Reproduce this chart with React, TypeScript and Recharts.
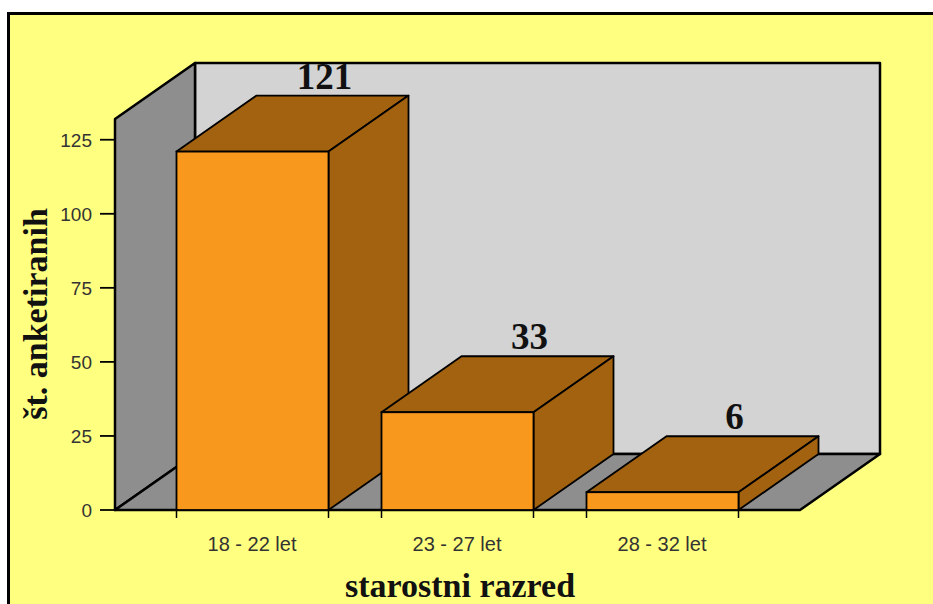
import React from 'react';
import { BarChart, Bar, XAxis, YAxis, ReferenceArea, LabelList } from 'recharts';

// ---- data ----
const categories = ['18 - 22 let', '23 - 27 let', '28 - 32 let'];
const counts = [121, 33, 6];
const yTicks = [0, 25, 50, 75, 100, 125];
const yMax = 132;
const yTitle = 'št. anketiranih';
const xTitle = 'starostni razred';

const data = categories.map((c, i) => ({ category: c, value: counts[i] }));

// ---- layout ----
const W = 933;
const H = 604;
const Y_AXIS_W = 60;
const X_AXIS_H = 40;
const M = { top: 119, right: 168.5, bottom: 54, left: 89.5 };
const PLOT_LEFT = M.left + Y_AXIS_W;
const PLOT_RIGHT = W - M.right;
const PLOT_BOTTOM = H - M.bottom - X_AXIS_H;
const GAP_L = 34.5;
const GAP_R = 35.5;
const DX = 80;
const DY = 56;

const SERIF = "'Liberation Serif', 'Times New Roman', serif";
const SANS = "'Liberation Sans', Arial, sans-serif";
const ORANGE = '#F8981D';
const BROWN = '#A2620F';
const DARK_GRAY = '#8E8E8E';
const LIGHT_GRAY = '#D3D3D3';

const pts = (arr: number[][]) => arr.map((p) => `${p[0]},${p[1]}`).join(' ');

const Walls = (props: any) => {
  const { x, y, width, height } = props;
  const l = x - GAP_L;
  const r = x + width + GAP_R;
  const t = y;
  const b = y + height;
  return (
    <g>
      <polygon
        points={pts([[l + DX, t - DY], [r + DX, t - DY], [r + DX, b - DY], [l + DX, b - DY]])}
        fill={LIGHT_GRAY}
        stroke="#000"
        strokeWidth={2.5}
        strokeLinejoin="round"
      />
      <polygon
        points={pts([[l, t], [l + DX, t - DY], [l + DX, b - DY], [l, b]])}
        fill={DARK_GRAY}
        stroke="#000"
        strokeWidth={2.5}
        strokeLinejoin="round"
      />
      <polygon
        points={pts([[l, b], [r, b], [r + DX, b - DY], [l + DX, b - DY]])}
        fill={DARK_GRAY}
        stroke="#000"
        strokeWidth={2.5}
        strokeLinejoin="round"
      />
    </g>
  );
};

const Box = (props: any) => {
  const { x, y, width, height } = props;
  if (x == null || y == null) return null;
  const b = y + height;
  const r = x + width;
  const sw = 1.8;
  return (
    <g>
      <line x1={x} y1={b} x2={x} y2={b + 8} stroke="#000" strokeWidth={1.5} />
      <line x1={r} y1={b} x2={r} y2={b + 8} stroke="#000" strokeWidth={1.5} />
      <polygon
        points={pts([[x, y], [x + DX, y - DY], [r + DX, y - DY], [r, y]])}
        fill={BROWN}
        stroke="#000"
        strokeWidth={sw}
        strokeLinejoin="round"
      />
      <polygon
        points={pts([[r, y], [r + DX, y - DY], [r + DX, b - DY], [r, b]])}
        fill={BROWN}
        stroke="#000"
        strokeWidth={sw}
        strokeLinejoin="round"
      />
      <rect x={x} y={y} width={width} height={height} fill={ORANGE} stroke="#000" strokeWidth={sw} />
    </g>
  );
};

const ValueLabel = (props: any) => {
  const vb = props.viewBox || {};
  const x = props.x ?? vb.x;
  const y = props.y ?? vb.y;
  const width = props.width ?? vb.width;
  if (x == null || y == null) return null;
  return (
    <text
      x={x + width / 2 + 72}
      y={y - 63}
      textAnchor="middle"
      fontFamily={SERIF}
      fontWeight="bold"
      fontSize={37}
      fill="#111"
    >
      {props.value}
    </text>
  );
};

const YTick = (props: any) => {
  const { y, payload } = props;
  const ax = PLOT_LEFT - GAP_L;
  return (
    <g>
      <line x1={ax - 15} y1={y} x2={ax} y2={y} stroke="#000" strokeWidth={1.8} />
      <text x={ax - 23} y={y + 7} textAnchor="end" fontSize={19} fontFamily={SANS} fill="#333">
        {payload.value}
      </text>
    </g>
  );
};

const XTick = (props: any) => {
  const { x, payload } = props;
  return (
    <text x={x} y={PLOT_BOTTOM + 41} textAnchor="middle" fontSize={20} fontFamily={SANS} fill="#333">
      {payload.value}
    </text>
  );
};

const XTitle = () => (
  <text
    x={(PLOT_LEFT + PLOT_RIGHT) / 2 + 3}
    y={597}
    textAnchor="middle"
    fontFamily={SERIF}
    fontWeight="bold"
    fontSize={34}
    fill="#111"
  >
    {xTitle}
  </text>
);

const YTitle = () => (
  <text
    x={47}
    y={314}
    transform="rotate(-90 47 314)"
    textAnchor="middle"
    fontFamily={SERIF}
    fontWeight="bold"
    fontSize={34}
    fill="#111"
  >
    {yTitle}
  </text>
);

export default function App() {
  return (
    <div style={{ position: 'absolute', left: 0, top: 0, width: W, height: H, overflow: 'hidden', background: '#fff' }}>
      <div
        style={{
          position: 'absolute',
          left: 7,
          top: 12,
          width: W + 20,
          height: H + 20,
          background: '#FFFF80',
          borderTop: '3px solid #000',
          borderLeft: '3px solid #000',
        }}
      />
      <div style={{ position: 'absolute', left: 0, top: 0 }}>
        <BarChart width={W} height={H} data={data} margin={M} barSize={152}>
          <ReferenceArea y1={0} y2={yMax} shape={<Walls />} fill={LIGHT_GRAY} ifOverflow="visible" />
          <XAxis
            dataKey="category"
            height={X_AXIS_H}
            tickLine={false}
            axisLine={false}
            tick={<XTick />}
            interval={0}
            label={<XTitle />}
          />
          <YAxis
            width={Y_AXIS_W}
            domain={[0, yMax]}
            ticks={yTicks}
            tickLine={false}
            axisLine={false}
            tick={<YTick />}
            label={<YTitle />}
          />
          <Bar dataKey="value" shape={<Box />} isAnimationActive={false}>
            <LabelList dataKey="value" content={<ValueLabel />} />
          </Bar>
        </BarChart>
      </div>
    </div>
  );
}
